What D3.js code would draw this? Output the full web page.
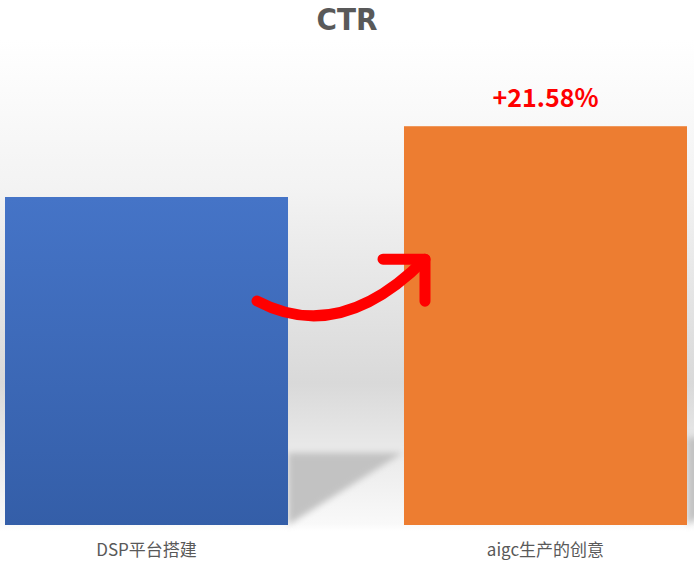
<!DOCTYPE html>
<html>
<head>
<meta charset="utf-8">
<script src="https://cdn.jsdelivr.net/npm/d3@7"></script>
<style>
  html, body { margin: 0; padding: 0; background: #fff; }
  #chart { width: 694px; height: 564px; }
  text { font-family: "Noto Sans CJK SC", "Noto Sans", sans-serif; }
</style>
</head>
<body>
<div id="chart"></div>
<script>
// data
const categories = ["DSP平台搭建", "aigc生产的创意"];
const ctrValues = [1.0, 1.2158];
const barColors = ["#4472c4", "#ed7d31"];
const liftLabel = "+21.58%";
const chartTitle = "CTR";

const width = 694;
const height = 564;
const margin = { top: 40, right: 7, bottom: 39, left: 5 };

const svg = d3.select("#chart")
    .append("svg")
    .attr("width", width)
    .attr("height", height);

const defs = svg.append("defs");

// background: wall gradient
const bg = defs.append("linearGradient")
    .attr("id", "bg-grad")
    .attr("x1", 0).attr("y1", 0).attr("x2", 0).attr("y2", 1);
[
    [0, "#ffffff"], [0.3, "#f3f3f3"], [0.7, "#d9d9d9"],
    [0.84, "#eaeaea"], [0.985, "#f9f9f9"], [1, "#ffffff"]
].forEach(s => bg.append("stop").attr("offset", s[0]).attr("stop-color", s[1]));

// blue bar gradient
const blueGrad = defs.append("linearGradient")
    .attr("id", "blue-grad")
    .attr("x1", 0).attr("y1", 0).attr("x2", 0).attr("y2", 1);
blueGrad.append("stop").attr("offset", 0).attr("stop-color", "#4574c7");
blueGrad.append("stop").attr("offset", 1).attr("stop-color", "#345ea8");

defs.append("filter")
    .attr("id", "blur")
    .attr("x", "-20%").attr("y", "-20%").attr("width", "140%").attr("height", "140%")
    .append("feGaussianBlur")
    .attr("stdDeviation", 3);

// scales
const xScale = d3.scaleBand()
    .domain(categories)
    .range([margin.left, width - margin.right])
    .paddingInner(0.2907)
    .paddingOuter(0);

const yScale = d3.scaleLinear()
    .domain([0, 1.4])
    .range([height - margin.bottom, height - margin.bottom - 1.4 * 328]);

const y0 = yScale(0);

svg.append("rect")
    .attr("x", 0)
    .attr("y", margin.top)
    .attr("width", width)
    .attr("height", y0 + 6 - margin.top)
    .attr("fill", "url(#bg-grad)");

// floor shadows
const data = categories.map((c, i) => ({ cat: c, value: ctrValues[i], color: barColors[i] }));

svg.append("g")
    .attr("class", "shadows")
    .selectAll("path")
    .data(data)
    .enter()
    .append("path")
    .attr("filter", "url(#blur)")
    .attr("fill", "#c2c2c2")
    .attr("d", d => {
        const h = y0 - yScale(d.value);
        const xr = xScale(d.cat) + xScale.bandwidth();
        const top = y0 - 0.22 * h;
        return `M${xr},${top}L${xr + 0.35 * h},${top}L${xr},${y0}Z`;
    });

// bars
svg.append("g")
    .attr("class", "bars")
    .selectAll("rect")
    .data(data)
    .enter()
    .append("rect")
    .attr("x", d => xScale(d.cat))
    .attr("y", d => yScale(d.value))
    .attr("width", xScale.bandwidth())
    .attr("height", d => y0 - yScale(d.value))
    .attr("fill", (d, i) => i === 0 ? "url(#blue-grad)" : d.color);

// category labels
svg.append("g")
    .selectAll("text")
    .data(data)
    .enter()
    .append("text")
    .attr("x", d => xScale(d.cat) + xScale.bandwidth() / 2)
    .attr("y", y0 + 31)
    .attr("text-anchor", "middle")
    .attr("fill", "#595959")
    .style("font-size", "17px")
    .text(d => d.cat);

// title
svg.append("text")
    .attr("x", width / 2)
    .attr("y", 30)
    .attr("text-anchor", "middle")
    .attr("fill", "#595959")
    .style("font-family", "'Liberation Sans Narrow', 'DejaVu Sans Condensed', sans-serif")
    .style("font-size", "31px")
    .style("font-weight", "bold")
    .text(chartTitle);

// lift label above the second bar
const last = data[1];
svg.append("text")
    .attr("x", xScale(last.cat) + xScale.bandwidth() / 2)
    .attr("y", yScale(last.value) - 19)
    .attr("text-anchor", "middle")
    .attr("fill", "#ff0000")
    .style("font-size", "25px")
    .style("font-weight", "bold")
    .text(liftLabel);

// curved arrow from blue bar to orange bar
const first = data[0];
const sx = xScale(first.cat) + xScale.bandwidth() - 31;
const sy = yScale(first.value) + 104;
const tx = xScale(last.cat) + 21;
const ty = yScale(last.value) + 133;

const arrow = svg.append("g")
    .attr("fill", "none")
    .attr("stroke", "#ff0000")
    .attr("stroke-width", 11)
    .attr("stroke-linecap", "round")
    .attr("stroke-linejoin", "round");

arrow.append("path")
    .attr("d", `M${sx},${sy}Q${sx + 83},${sy + 44} ${tx},${ty}`);

arrow.append("path")
    .attr("d", `M${tx - 42},${ty}L${tx},${ty}L${tx},${ty + 42}`);
</script>
</body>
</html>
